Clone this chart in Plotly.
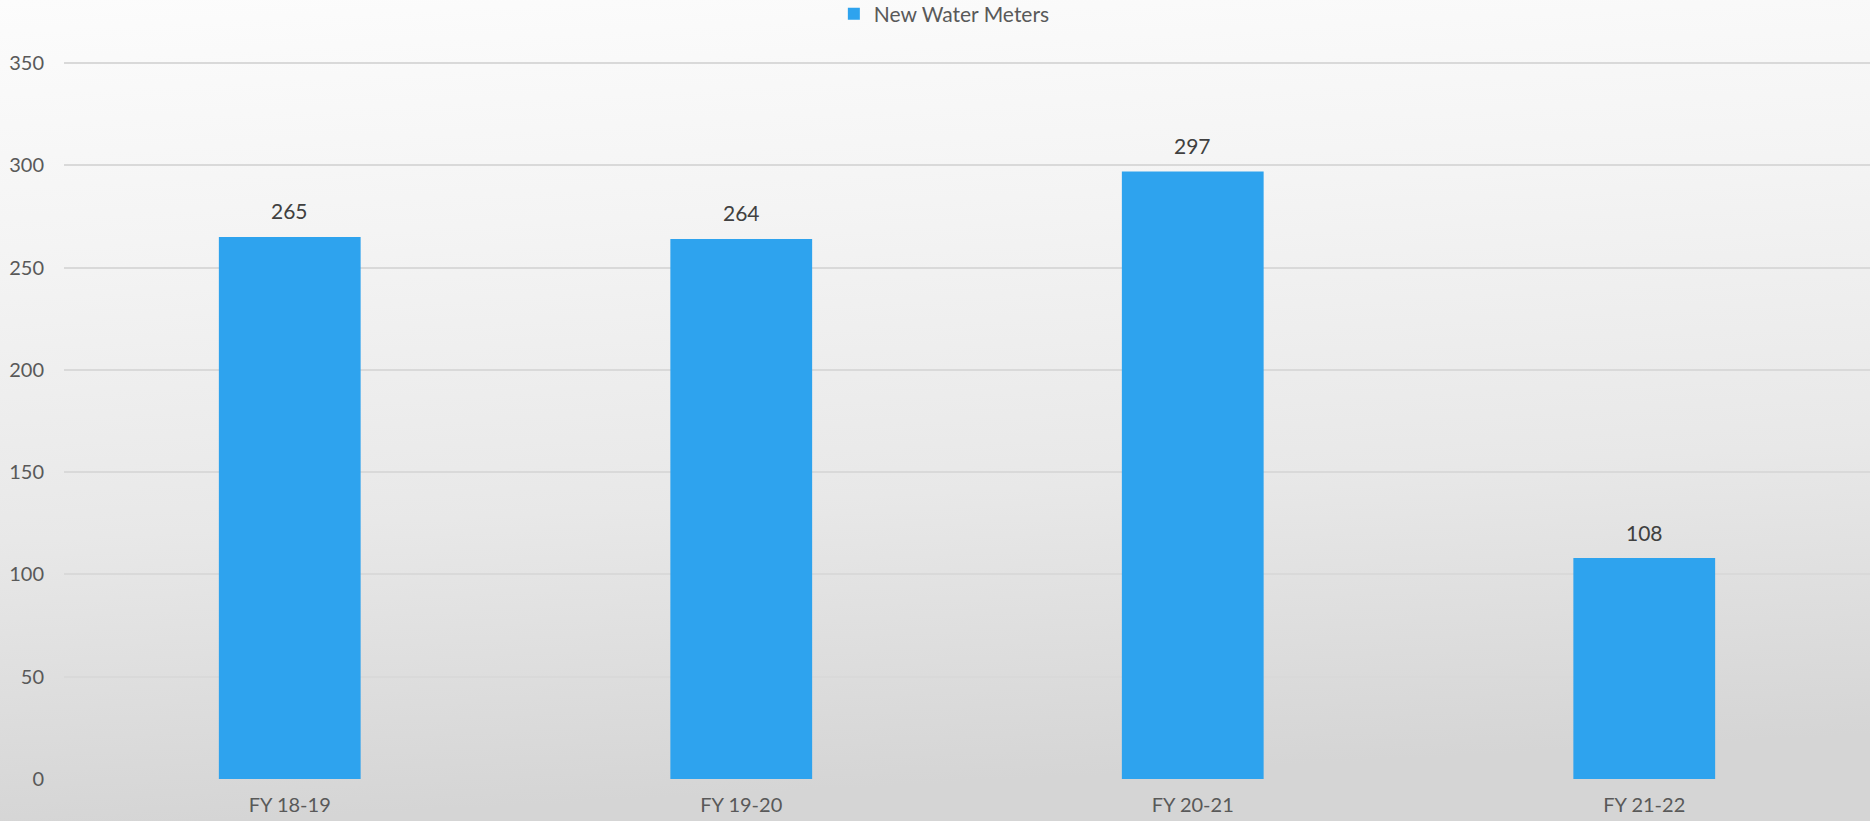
import base64
import plotly.graph_objects as go

# Data
categories = ["FY 18-19", "FY 19-20", "FY 20-21", "FY 21-22"]
new_meters = [265, 264, 297, 108]
y_ticks = [0, 50, 100, 150, 200, 250, 300, 350]
series_name = "New Water Meters"

W, H = 1870, 821
M_L, M_R, M_T, M_B = 64, 0, 61, 42
FONT = "Lato, 'Noto Sans', sans-serif"
BAR_COLOR = "#2ea3ee"
TEXT_GRAY = "#595959"

# Soft vertical gradient backdrop (white at the top, light gray at the bottom)
svg = f"""<svg xmlns="http://www.w3.org/2000/svg" width="{W}" height="{H}" viewBox="0 0 {W} {H}" preserveAspectRatio="none">
<defs><linearGradient id="g" x1="0" y1="0" x2="0.12" y2="1">
<stop offset="0" stop-color="#fcfcfc"/>
<stop offset="0.3" stop-color="#f4f4f4"/>
<stop offset="0.65" stop-color="#e8e8e8"/>
<stop offset="1" stop-color="#d5d5d5"/>
</linearGradient></defs>
<rect x="0" y="0" width="{W}" height="{H}" fill="url(#g)"/>
</svg>"""
bg_src = "data:image/svg+xml;base64," + base64.b64encode(svg.encode()).decode()

plot_w = W - M_L - M_R
plot_h = H - M_T - M_B

fig = go.Figure()
fig.add_trace(go.Bar(
    x=categories,
    y=new_meters,
    name=series_name,
    marker=dict(color=BAR_COLOR, line=dict(width=0)),
    showlegend=True,
))

# Value labels above each bar
for cat, val in zip(categories, new_meters):
    fig.add_annotation(
        x=cat, y=val, text=str(val), showarrow=False,
        yshift=26, font=dict(family=FONT, size=21, color="#404040"),
    )

fig.update_layout(
    width=W, height=H,
    margin=dict(l=M_L, r=M_R, t=M_T, b=M_B, pad=0),
    paper_bgcolor="white",
    plot_bgcolor="rgba(0,0,0,0)",
    bargap=0.686,
    font=dict(family=FONT, size=20, color=TEXT_GRAY),
    legend=dict(
        orientation="h",
        xref="container", yref="container",
        x=0.505, y=1 - 14 / H, xanchor="center", yanchor="middle",
        font=dict(family=FONT, size=21, color=TEXT_GRAY),
        bgcolor="rgba(0,0,0,0)",
        itemwidth=30,
    ),
    xaxis=dict(
        showgrid=False, zeroline=False, showline=False,
        ticks="", ticklabelstandoff=12,
        tickfont=dict(family=FONT, size=20, color=TEXT_GRAY),
        fixedrange=True,
    ),
    yaxis=dict(
        range=[0, 351],
        tickvals=y_ticks,
        showgrid=True, gridcolor="#d9d9d9", gridwidth=2,
        zeroline=False, showline=False,
        ticks="", ticklabelstandoff=19,
        tickfont=dict(family=FONT, size=20, color=TEXT_GRAY),
        fixedrange=True,
    ),
    images=[dict(
        source=bg_src,
        xref="paper", yref="paper",
        x=-M_L / plot_w, y=1 + M_T / plot_h,
        sizex=W / plot_w, sizey=H / plot_h,
        xanchor="left", yanchor="top",
        sizing="stretch", layer="below",
    )],
)

fig.write_html("out.html")
